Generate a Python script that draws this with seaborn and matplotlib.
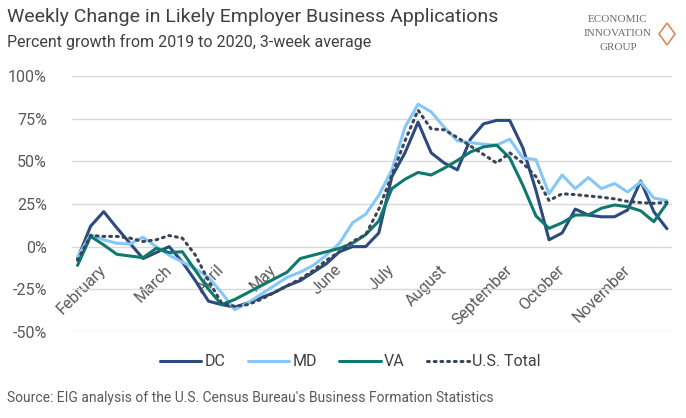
import numpy as np
import pandas as pd
import matplotlib
matplotlib.use('Agg')
from matplotlib import pyplot as plt
from matplotlib.patches import Polygon
import seaborn as sns


# weekly data, weeks ending on Saturday
weeks = pd.date_range('2020-01-18', periods=46, freq='7D')

dc = [-7, 12, 20.5, 11, 2, -7, -3.5, 0, -9, -20, -32, -34, -35.5, -33, -30,
      -27, -23, -20, -15, -10, -3, 0, 0, 8, 41, 55, 73, 55, 49, 45, 63, 72,
      74, 74, 58, 33, 4, 8, 22, 18.5, 17.5, 17.5, 21.5, 38.5, 20.5, 10.5]
md = [-6, 7, 4, 2, 1.5, 5.5, 0, -5, -9, -13, -18, -27, -37, -33, -28, -23,
      -18, -15, -11, -5, 2, 14, 19, 30, 45, 70, 83.5, 79, 70, 62, 61, 60,
      59.5, 63, 52, 51, 31, 42, 34, 40.5, 34, 37, 32, 38, 28.5, 27]
va = [-11, 6, 1, -4.5, -5.5, -6.5, -1, -3.5, -3, -14, -25, -34, -31, -27,
      -23, -19, -15, -7, -5, -3, -1, 2, 7, 15, 34, 39.5, 43.5, 42, 46, 50.5,
      55.5, 58.5, 59.5, 52, 36, 18, 10.7, 14, 18.5, 18.6, 22.5, 24.4, 23.4,
      21, 14.6, 25.4]
us_total = [-8, 6.5, 6, 6, 5, 3, 4, 6.5, 5, -5, -20, -33, -35, -34, -31, -27,
            -23, -19, -14, -8, -3, 3, 7, 22, 42, 62, 80, 69, 68.5, 64, 59, 54,
            49, 55, 49, 41, 27, 31, 30.5, 29.7, 29, 28, 26.5, 25.8, 25.4, 26]

y_ticks = [-50, -25, 0, 25, 50, 75, 100]

series = [('DC', dc, '#2C4A7E', '-'),
          ('MD', md, '#85C8F7', '-'),
          ('VA', va, '#10796E', '-'),
          ('U.S. Total', us_total, '#3A4657', ':')]

title = 'Weekly Change in Likely Employer Business Applications'
subtitle = 'Percent growth from 2019 to 2020, 3-week average'
source = ("Source: EIG analysis of the U.S. Census Bureau's "
          "Business Formation Statistics")


if __name__ == '__main__':

    sns.set_theme(style='white')
    plt.rcParams['font.family'] = ['Roboto', 'DejaVu Sans']

    fig = plt.figure(figsize=(6.86, 4.18), dpi=100)
    ax = fig.add_axes([0.105, 0.206, 0.875, 0.612])

    idx = np.arange(len(weeks))
    for name, vals, color, ls in series:
        if ls == ':':
            sns.lineplot(x=idx, y=vals, ax=ax, color=color, lw=2.2,
                         linestyle=(0, (0.6, 1.6)), dash_capstyle='round',
                         label=name)
        else:
            sns.lineplot(x=idx, y=vals, ax=ax, color=color, lw=2.2,
                         label=name)

    # spine position first: it resets the ticks
    ax.spines['bottom'].set_position(('data', 0))
    for s in ax.spines.values():
        s.set_visible(False)

    # month labels on the first week of each month
    month_pos = [i for i in range(1, len(weeks))
                 if weeks[i].month != weeks[i - 1].month]
    month_lab = [weeks[i].strftime('%B') for i in month_pos]

    ax.set_xlim(-0.42, 45.41)
    ax.set_ylim(-50, 100)
    ax.set_yticks(y_ticks)
    ax.set_yticklabels(['{}%'.format(v) for v in y_ticks])
    ax.set_xticks(month_pos)
    ax.set_xticklabels(month_lab)
    ax.tick_params(axis='x', length=0, pad=15, labelsize=11.5,
                   labelcolor='#595959')
    ax.tick_params(axis='y', length=0, pad=18, labelsize=11.5,
                   labelcolor='#595959')
    plt.setp(ax.get_xticklabels(), rotation=45, ha='right', va='center',
             rotation_mode='anchor')
    ax.yaxis.grid(True, color='#D9D9D9', lw=1)
    ax.set_axisbelow(True)
    ax.set_xlabel('')
    ax.set_ylabel('')

    handles, labels = ax.get_legend_handles_labels()
    ax.get_legend().remove()
    fig.legend(handles, labels, loc='center', ncol=4,
               bbox_to_anchor=(350 / 686, 1 - 362 / 418), frameon=False,
               fontsize=11.5, handlelength=2.6, handletextpad=0.2,
               columnspacing=1.4, labelcolor='#404040')

    fig.text(0.01, 1 - 17 / 418, title, fontsize=14, color='#3F3F3F',
             va='center', ha='left')
    fig.text(0.01, 1 - 42 / 418, subtitle, fontsize=11.5, color='#3F3F3F',
             va='center', ha='left')
    fig.text(0.01, 1 - 398 / 418, source, fontsize=10, color='#595959',
             va='center', ha='left')

    # logo
    for k, word in enumerate(['ECONOMIC', 'INNOVATION', 'GROUP']):
        fig.text(618 / 686, 1 - (19 + 14 * k) / 418, word,
                 family='Liberation Serif', fontsize=8, color='#6B6B6B',
                 ha='center', va='center')
    cx, cy = 667 / 686, 1 - 34 / 418
    dx, dy = 8 / 686, 11 / 418
    fig.add_artist(Polygon([(cx, cy + dy), (cx + dx, cy), (cx, cy - dy),
                            (cx - dx, cy)], closed=True,
                           transform=fig.transFigure, facecolor='none',
                           edgecolor='#D98C5F', lw=1.2))

    plt.savefig('out.png', dpi=100)
